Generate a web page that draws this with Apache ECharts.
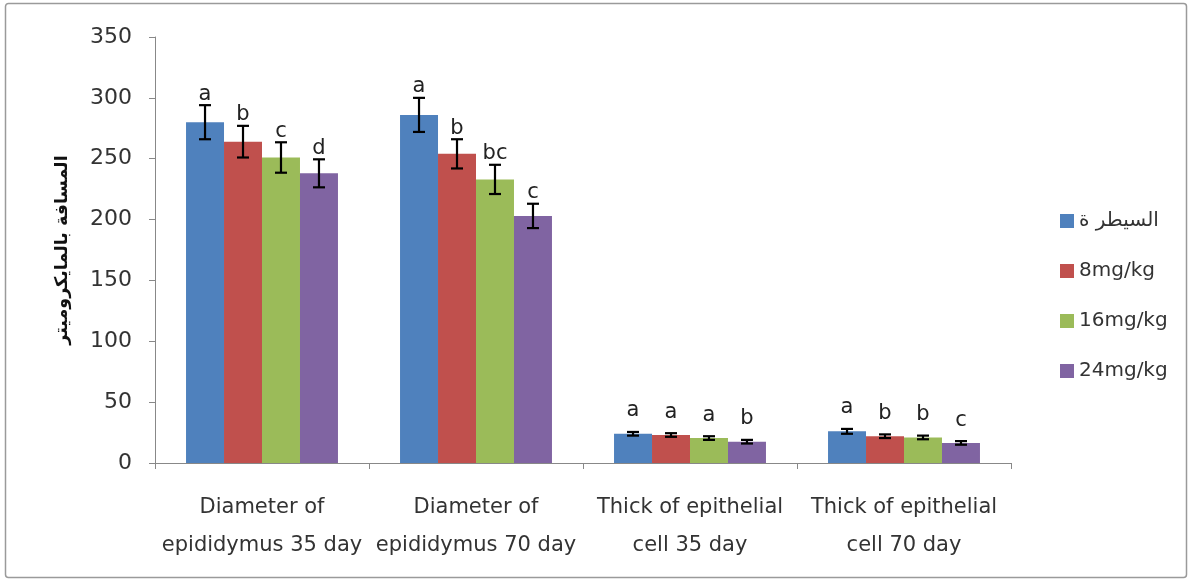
<!DOCTYPE html>
<html><head><meta charset="utf-8">
<script src="https://cdn.jsdelivr.net/npm/echarts@6/dist/echarts.min.js"></script>
<style>html,body{margin:0;padding:0;background:#fff}#c{width:1193px;height:581px}</style>
</head><body><div id="c"></div>
<script>
const categories = ['Diameter of\nepididymus 35 day','Diameter of\nepididymus 70 day','Thick of epithelial\ncell 35 day','Thick of epithelial\ncell 70 day'];
const seriesNames = ['السيطر ة','8mg/kg','16mg/kg','24mg/kg'];
const control = [280, 286, 24, 26];
const mg8 = [264, 254, 23, 22];
const mg16 = [251, 233, 20.5, 21];
const mg24 = [238, 203, 17.5, 16.5];
const errControl = [14, 14, 1.5, 2];
const errMg8 = [13, 12, 1.5, 1.5];
const errMg16 = [12.5, 12, 1.5, 1.5];
const errMg24 = [11.5, 10, 1.5, 1.5];
const lettersControl = ['a','a','a','a'];
const lettersMg8 = ['b','b','a','b'];
const lettersMg16 = ['c','bc','a','b'];
const lettersMg24 = ['d','c','b','c'];
const yTicks = [0,50,100,150,200,250,300,350];

const colors = ['#4F81BD','#C0504D','#9BBB59','#8064A2'];
const values = [control, mg8, mg16, mg24];
const errs = [errControl, errMg8, errMg16, errMg24];
const letters = [lettersControl, lettersMg8, lettersMg16, lettersMg24];
const gapFrac = 0.29;
const FONT = '"DejaVu Sans", sans-serif';

const chart = echarts.init(document.getElementById('c'));
const series = [];
values.forEach((v, i) => {
  series.push({
    name: seriesNames[i], type: 'bar', data: v, barGap: 0, barCategoryGap: '29%',
    itemStyle: {color: colors[i]}
  });
});
values.forEach((v, i) => {
  series.push({
    type: 'custom', silent: true, z: 5,
    data: v.map((val, j) => [j, val, errs[i][j]]),
    renderItem: function (params, api) {
      const cat = api.value(0), val = api.value(1), e = api.value(2);
      const W = api.size([1, 0])[0];
      const bw = W * (1 - gapFrac) / 4;
      const off = -W * (1 - gapFrac) / 2 + bw * (i + 0.5);
      const top = api.coord([cat, val + e]);
      const bot = api.coord([cat, val - e]);
      const x = top[0] + off;
      const hw = 6;
      const st = {stroke: '#000', lineWidth: 2.2};
      const lab = letters[i][cat];
      const lift = val < 50 ? 21 : 11;
      return {type: 'group', children: [
        {type: 'line', shape: {x1: x, y1: top[1], x2: x, y2: bot[1]}, style: st},
        {type: 'line', shape: {x1: x - hw, y1: top[1], x2: x + hw, y2: top[1]}, style: st},
        {type: 'line', shape: {x1: x - hw, y1: bot[1], x2: x + hw, y2: bot[1]}, style: st},
        {type: 'text', style: {text: lab, x: x, y: top[1] - lift, align: 'center', verticalAlign: 'middle',
          font: '21px ' + FONT, fill: '#222'}}
      ]};
    }
  });
});

chart.setOption({
  animation: false,
  graphic: [{type: 'rect', shape: {x: 5.5, y: 3.5, width: 1181, height: 574, r: 3},
    style: {fill: 'none', stroke: '#9a9a9a', lineWidth: 1.5}, z: -1}],
  grid: {left: 155, right: 182, top: 37, bottom: 118},
  legend: {
    orient: 'vertical', left: 1055, top: 206, itemGap: 30, itemWidth: 14, itemHeight: 14,
    icon: 'rect', data: seriesNames,
    textStyle: {fontSize: 20, color: '#333', fontFamily: FONT}
  },
  xAxis: {
    type: 'category', data: categories,
    axisLine: {lineStyle: {color: '#888'}},
    axisTick: {show: true, length: 6, lineStyle: {color: '#888'}},
    axisLabel: {fontSize: 21, color: '#333', lineHeight: 38, margin: 26, interval: 0,
      fontFamily: FONT}
  },
  yAxis: {
    type: 'value', min: 0, max: 350, interval: 50,
    name: 'المسافة بالمايكروميتر', nameLocation: 'middle', nameGap: 84, nameRotate: 90,
    nameTextStyle: {fontSize: 17.5, fontWeight: 'bold', color: '#111', fontFamily: FONT},
    axisLine: {show: true, lineStyle: {color: '#888'}},
    axisTick: {show: true, length: 6, lineStyle: {color: '#888'}},
    splitLine: {show: false},
    axisLabel: {fontSize: 22, color: '#333', margin: 23, fontFamily: FONT,
      formatter: v => yTicks.includes(v) ? String(v) : ''}
  },
  series: series
});
</script></body></html>
